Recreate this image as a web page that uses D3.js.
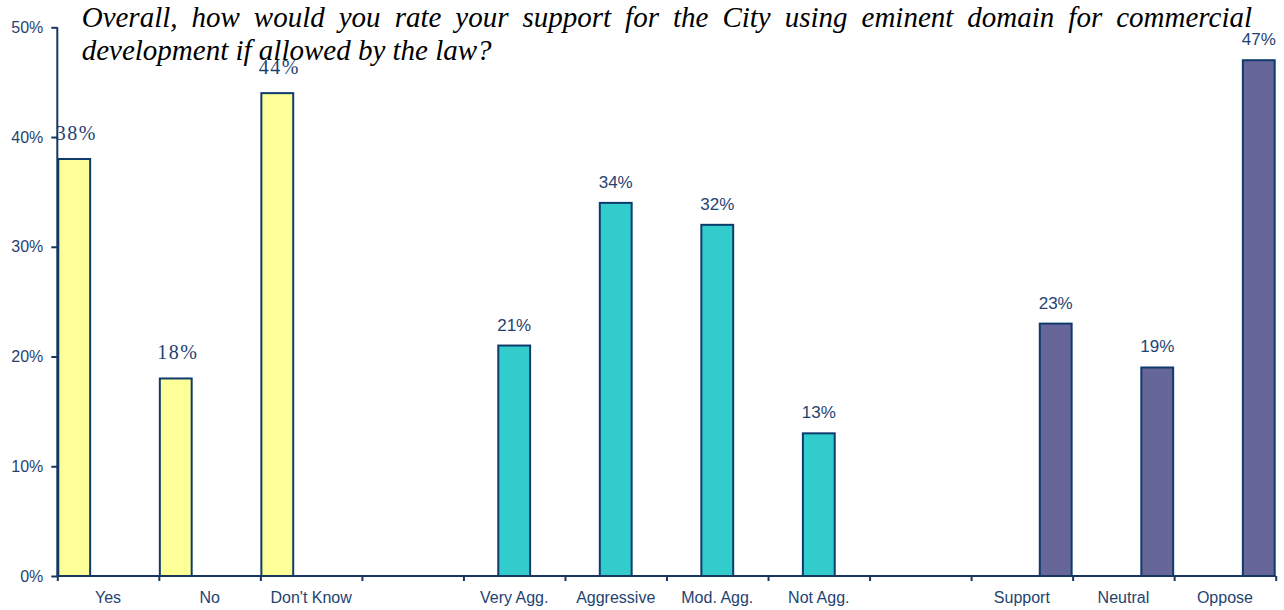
<!DOCTYPE html>
<html>
<head>
<meta charset="utf-8">
<script src="https://cdn.jsdelivr.net/npm/d3@7"></script>
<style>
  html, body { margin: 0; padding: 0; background: #fff; }
  svg { display: block; }
</style>
</head>
<body>
<svg id="chart" width="1284" height="610"></svg>
<script>
// ---- data ----
const categories = ["Yes", "No", "Don't Know", "", "Very Agg.", "Aggressive", "Mod. Agg.", "Not Agg.", "", "Support", "Neutral", "Oppose"];
const seriesNames = ["Awareness", "Aggressiveness", "Support"];
const awarenessValues = [38, 18, 44, null, null, null, null, null, null, null, null, null];
const aggressivenessValues = [null, null, null, null, 21, 34, 32, 13, null, null, null, null];
const supportValues = [null, null, null, null, null, null, null, null, null, 23, 19, 47];
const yTicks = [0, 10, 20, 30, 40, 50];
const titleLine1 = "Overall, how would you rate your support for the City using eminent domain for commercial";
const titleLine2 = "development if allowed by the law?";

// ---- styles ----
const seriesFill = ["#FFFF99", "#33CCCC", "#666699"];
const navy = "#17375E";
const labelColor = "#1F4371";

const svg = d3.select("#chart");
const plotLeft = 57.3, plotRight = 1275.7, plotTop = 27.3, plotBottom = 576;

const idx = categories.map((d, i) => i);
const x = d3.scaleBand().domain(idx).range([plotLeft, plotRight]).padding(0);
const xs = d3.scaleBand().domain([0, 1, 2]).range([0, x.bandwidth()]).padding(0);
const y = d3.scaleLinear().domain([0, 50]).range([plotBottom, plotTop]);
const xEdge = d3.scaleLinear().domain([0, categories.length]).range([plotLeft, plotRight]);

const allSeries = [awarenessValues, aggressivenessValues, supportValues];

// bars
allSeries.forEach((vals, s) => {
  const data = vals.map((v, i) => ({ i, v })).filter(d => d.v != null);
  svg.append("g").selectAll("rect").data(data).join("rect")
    .attr("x", d => x(d.i) + xs(s) + 1)
    .attr("y", d => y(d.v))
    .attr("width", xs.bandwidth() - 2)
    .attr("height", d => y(0) - y(d.v))
    .attr("fill", seriesFill[s])
    .attr("stroke", "#0E3A6C")
    .attr("stroke-width", 2);

  svg.append("g").selectAll("text").data(data).join("text")
    .attr("x", d => x(d.i) + xs(s) + xs.bandwidth() / 2 + (s === 0 ? 2 : 0))
    .attr("y", d => y(d.v) - (s === 0 ? 19 : 15))
    .attr("text-anchor", "middle")
    .attr("fill", labelColor)
    .attr("font-family", s === 0 ? "'Liberation Serif', 'Times New Roman', serif" : "'Liberation Sans', Arial, sans-serif")
    .attr("font-size", s === 0 ? 20 : 17)
    .attr("letter-spacing", s === 0 ? 1.5 : 0)
    .text(d => d.v + "%");
});

// y axis
const yAxis = d3.axisLeft(y).tickValues(yTicks).tickSize(6).tickPadding(8).tickFormat(d => d + "%");
const gy = svg.append("g").attr("transform", `translate(${plotLeft},0)`).call(yAxis);
gy.select(".domain").attr("stroke", navy).attr("stroke-width", 2).attr("d", `M0,${plotBottom}V${plotTop}`);
gy.selectAll(".tick line").attr("stroke", navy).attr("stroke-width", 2);
gy.selectAll(".tick text").attr("fill", labelColor)
  .attr("font-family", "'Liberation Sans', Arial, sans-serif").attr("font-size", 16);

// x axis: boundary ticks
const xAxisTicks = d3.axisBottom(xEdge).tickValues(d3.range(categories.length + 1)).tickSize(5).tickFormat("");
const gx = svg.append("g").attr("transform", `translate(0,${plotBottom})`).call(xAxisTicks);
gx.select(".domain").attr("stroke", navy).attr("stroke-width", 2).attr("d", `M${plotLeft},0H${plotRight}`);
gx.selectAll(".tick line").attr("stroke", navy).attr("stroke-width", 2);

// x axis: category labels
const xAxisLabels = d3.axisBottom(x).tickSize(0).tickPadding(0).tickFormat(i => categories[i]);
const gxl = svg.append("g").attr("transform", `translate(0,${plotBottom})`).call(xAxisLabels);
gxl.select(".domain").remove();
gxl.selectAll(".tick text").attr("fill", labelColor)
  .attr("font-family", "'Liberation Sans', Arial, sans-serif").attr("font-size", 16)
  .attr("dy", null).attr("y", 27);

// title (justified first line)
const titleFont = "'Liberation Serif', 'Times New Roman', serif";
const tSize = 29;
const tLeft = 81.7, tRight = 1252;
const words = titleLine1.split(" ");
const tg = svg.append("g");
const widths = words.map(w => {
  const t = tg.append("text").attr("font-family", titleFont).attr("font-size", tSize)
    .attr("font-style", "italic").text(w);
  const wd = t.node().getComputedTextLength();
  t.remove();
  return wd;
});
const total = d3.sum(widths);
const gap = (tRight - tLeft - total) / (words.length - 1);
let cx = tLeft;
words.forEach((w, i) => {
  tg.append("text").attr("x", cx).attr("y", 27)
    .attr("font-family", titleFont).attr("font-size", tSize).attr("font-style", "italic")
    .attr("fill", "#000").text(w);
  cx += widths[i] + gap;
});
tg.append("text").attr("x", tLeft).attr("y", 60)
  .attr("font-family", titleFont).attr("font-size", tSize).attr("font-style", "italic")
  .attr("fill", "#000").text(titleLine2);
</script>
</body>
</html>
